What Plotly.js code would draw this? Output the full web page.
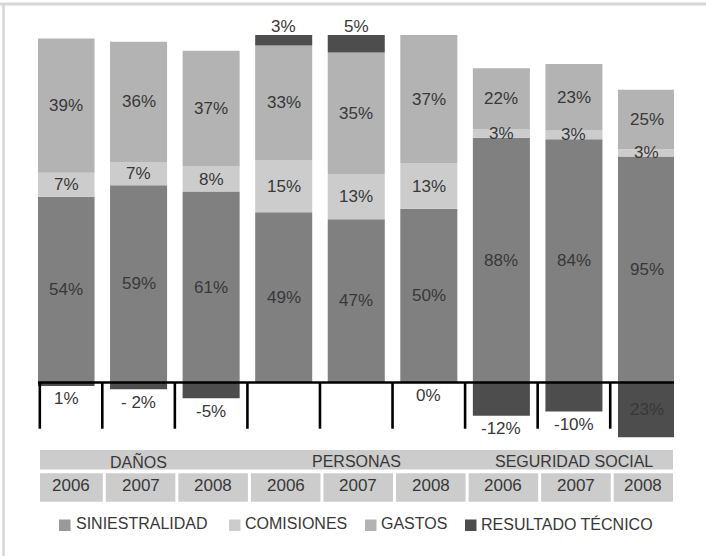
<!DOCTYPE html>
<html><head><meta charset="utf-8">
<script src="https://cdn.plot.ly/plotly-3.0.1.min.js"></script>
<style>html,body{margin:0;padding:0;background:#fff}#chart{width:706px;height:556px}</style>
</head><body><div id="chart"></div>
<script>
// ---- data ----
const groups = ['DAÑOS', 'PERSONAS', 'SEGURIDAD SOCIAL'];
const years = ['2006', '2007', '2008', '2006', '2007', '2008', '2006', '2007', '2008'];
const siniestralidad = [54, 59, 61, 49, 47, 50, 88, 84, 95];
const comisiones = [7, 7, 8, 15, 13, 13, 3, 3, 3];
const gastos = [39, 36, 37, 33, 35, 37, 22, 23, 25];
const resultado = [-1, -2, -5, 3, 5, 0, -12, -10, -23];
const resultadoLabels = ['1%', '- 2%', '-5%', '3%', '5%', '0%', '-12%', '-10%', '23%'];
const seriesNames = ['SINIESTRALIDAD', 'COMISIONES', 'GASTOS', 'RESULTADO TÉCNICO'];

// ---- styling ----
const FONT = '"Liberation Sans", Arial, sans-serif';
const TXT = '#383838';
const barColors = ['#808080', '#cccccc', '#b3b3b3', '#4d4d4d'];
const legendColors = ['#999999', '#cccccc', '#b3b3b3', '#4d4d4d'];

// 100% stacked (as in the original spreadsheet chart): each bar normalised by sum of |values|
const idx = years.map((_, i) => i);
const totals = idx.map(i => siniestralidad[i] + comisiones[i] + gastos[i] + Math.abs(resultado[i]));
const norm = arr => arr.map((v, i) => v * 100 / totals[i]);
const nSin = norm(siniestralidad), nCom = norm(comisiones), nGas = norm(gastos), nRes = norm(resultado);

const W = 706, H = 556;
const M = {l: 38, r: 32, t: 21, b: 113};
const plotW = W - M.l - M.r, plotH = H - M.t - M.b;
const xRange = [-0.386, 8.379];
const yRange = [-17.41, 104.03];
const xToPx = x => M.l + (x - xRange[0]) * plotW / (xRange[1] - xRange[0]);
const pxToPaperX = p => (p - M.l) / plotW;
const pxToPaperY = p => (M.t + plotH - p) / plotH;

function barTrace(name, y, color) {
  return {
    type: 'bar', name: name, x: idx, y: y,
    marker: {color: color, line: {width: 0}},
    hoverinfo: 'skip', showlegend: false
  };
}

const data = [
  barTrace(seriesNames[0], nSin, barColors[0]),
  barTrace(seriesNames[1], nCom, barColors[1]),
  barTrace(seriesNames[2], nGas, barColors[2]),
  barTrace(seriesNames[3], nRes, barColors[3])
];

const shapes = [];
const annotations = [];
const lab = (x, y, text, yshift) => annotations.push({xref: 'x', yref: 'y', x: x, y: y, yshift: yshift || 0, text: text,
  showarrow: false, xanchor: 'center', yanchor: 'middle', font: {family: FONT, size: 17, color: TXT}});

// segment labels (drawn above all bars)
idx.forEach(i => {
  lab(i, nSin[i] / 2, siniestralidad[i] + '%');
  lab(i, nSin[i] + nCom[i] / 2, comisiones[i] + '%');
  lab(i, nSin[i] + nCom[i] + nGas[i] / 2, gastos[i] + '%');
});

// frame
shapes.push({type: 'line', xref: 'paper', yref: 'paper', x0: pxToPaperX(0), x1: pxToPaperX(W), y0: pxToPaperY(4), y1: pxToPaperY(4), line: {color: '#d6d6d6', width: 3}});
shapes.push({type: 'line', xref: 'paper', yref: 'paper', x0: pxToPaperX(3.5), x1: pxToPaperX(3.5), y0: pxToPaperY(3), y1: pxToPaperY(H), line: {color: '#d6d6d6', width: 2.5}});

// zero axis line
shapes.push({type: 'line', xref: 'paper', yref: 'y', x0: 0, x1: 1, y0: 0, y1: 0, layer: 'above', line: {color: '#000', width: 2.6}});
// category tick lines
idx.forEach(k => {
  const x = Math.max(k - 0.5, xRange[0] + 0.025);
  shapes.push({type: 'line', xref: 'x', yref: 'y', x0: x, x1: x, y0: 0, y1: -13.3, layer: 'above', line: {color: '#000', width: 2.6}});
});

// resultado labels
idx.forEach(i => {
  const r = nRes[i];
  if (r < -12) lab(i, r / 2, resultadoLabels[i], 0);
  else if (r > 0) lab(i, nSin[i] + nCom[i] + nGas[i] + r, resultadoLabels[i], 9);
  else lab(i, r, resultadoLabels[i], -13);
});

// category table: group band
shapes.push({type: 'rect', xref: 'paper', yref: 'paper', x0: pxToPaperX(40), x1: pxToPaperX(673), y0: pxToPaperY(469.5), y1: pxToPaperY(450), fillcolor: '#cccccc', line: {width: 0}, layer: 'above'});
groups.forEach((g, gi) => {
  annotations.push({xref: 'x', yref: 'paper', x: gi * 3 + 1, y: pxToPaperY(461), text: g, showarrow: false,
    xanchor: 'center', yanchor: 'middle', font: {family: FONT, size: 16, color: TXT}});
});
// year cells
const bnd = k => xToPx(k - 0.5) + 2;
idx.forEach(i => {
  const left = i === 0 ? 40 : bnd(i) + 1.5;
  const right = i === years.length - 1 ? 673 : bnd(i + 1) - 1.5;
  shapes.push({type: 'rect', xref: 'paper', yref: 'paper', x0: pxToPaperX(left), x1: pxToPaperX(right), y0: pxToPaperY(501.7), y1: pxToPaperY(473.3), fillcolor: '#cccccc', line: {width: 0}, layer: 'above'});
  annotations.push({xref: 'paper', yref: 'paper', x: pxToPaperX((left + right) / 2), y: pxToPaperY(485.5), text: years[i], showarrow: false,
    xanchor: 'center', yanchor: 'middle', font: {family: FONT, size: 17, color: TXT}});
});

// legend
const legSq = [59, 229, 365, 465];
const legTx = [75, 244, 380, 479.5];
seriesNames.forEach((n, k) => {
  shapes.push({type: 'rect', xref: 'paper', yref: 'paper', x0: pxToPaperX(legSq[k]), x1: pxToPaperX(legSq[k] + 11.5), y0: pxToPaperY(531), y1: pxToPaperY(519.5), fillcolor: legendColors[k], line: {width: 0}, layer: 'above'});
  annotations.push({xref: 'paper', yref: 'paper', x: pxToPaperX(legTx[k]), y: pxToPaperY(523.5), text: n, showarrow: false,
    xanchor: 'left', yanchor: 'middle', borderpad: 0, font: {family: FONT, size: 16, color: TXT}});
});

const layout = {
  width: W, height: H, margin: M,
  paper_bgcolor: '#fff', plot_bgcolor: '#fff',
  barmode: 'relative', bargap: 0.214,
  showlegend: false,
  xaxis: {range: xRange, showticklabels: false, showgrid: false, zeroline: false, showline: false, ticks: '', fixedrange: true},
  yaxis: {range: yRange, showticklabels: false, showgrid: false, zeroline: false, showline: false, ticks: '', fixedrange: true},
  shapes: shapes, annotations: annotations,
  font: {family: FONT, color: TXT}
};

Plotly.newPlot('chart', data, layout, {displayModeBar: false, staticPlot: true});
</script>
</body></html>
